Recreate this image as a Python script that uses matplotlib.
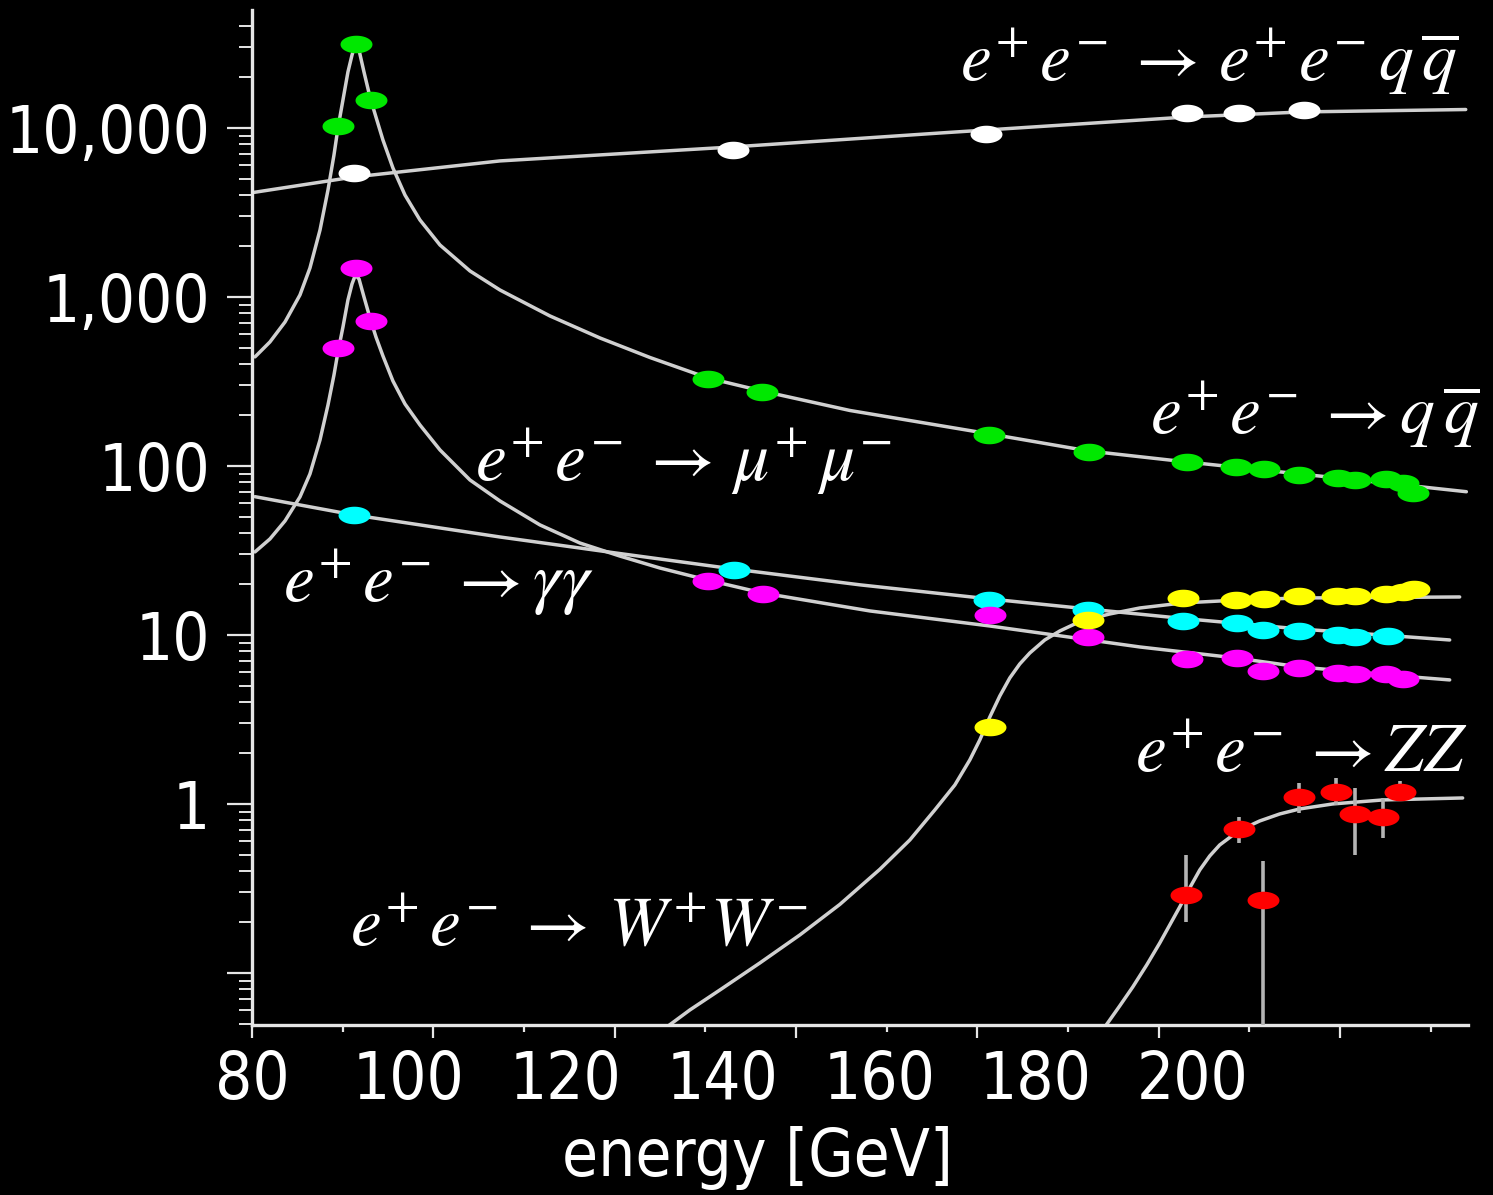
import numpy as np
import matplotlib
matplotlib.use("Agg")
import matplotlib.pyplot as plt
from matplotlib.path import Path
from matplotlib.font_manager import FontProperties
from matplotlib.ticker import FixedLocator, NullFormatter, FixedFormatter, LogLocator

# ---------------- measured cross sections (pb) vs centre-of-mass energy (GeV) ----------------
qq_energy = [89.5, 91.5, 93.1, 130.3, 136.2, 161.3, 172.3, 183.1, 188.5, 191.6, 195.5,
             199.8, 201.6, 205.1, 206.9, 208.0]
qq_sigma = [10280, 31400, 14650, 327, 275, 152, 121, 105, 98.3, 96.0, 88.5,
            84.6, 82.6, 83.4, 79.0, 68.9]

eeqq_energy = [91.2, 133.0, 161.0, 183.1, 188.9, 196.0]
eeqq_sigma = [5420, 7410, 9210, 12270, 12270, 12790]

mumu_energy = [89.5, 91.5, 93.1, 130.3, 136.4, 161.4, 172.2, 183.1, 188.6, 191.5, 195.5,
               199.8, 201.6, 205.1, 206.9]
mumu_sigma = [499, 1490, 721, 20.9, 17.4, 13.1, 9.77, 7.21, 7.28, 6.15, 6.35,
              5.94, 5.90, 5.90, 5.47]

gg_energy = [91.2, 133.1, 161.3, 172.2, 182.7, 188.6, 191.5, 195.5, 199.8, 201.6, 205.3]
gg_sigma = [51.3, 24.2, 16.1, 14.1, 12.1, 11.7, 10.7, 10.6, 10.0, 9.7, 9.8]

ww_energy = [161.4, 172.2, 182.7, 188.5, 191.6, 195.5, 199.6, 201.6, 205.1, 206.9, 208.2]
ww_sigma = [2.87, 12.3, 16.5, 16.1, 16.3, 16.9, 16.9, 16.9, 17.5, 18.0, 18.7]

zz_energy = [183.0, 188.9, 191.5, 195.5, 199.5, 201.6, 204.7, 206.6]
zz_sigma = [0.29, 0.71, 0.27, 1.10, 1.18, 0.87, 0.84, 1.18]
zz_err_lo = [0.09, 0.12, 0.267, 0.22, 0.19, 0.37, 0.21, 0.12]
zz_err_hi = [0.21, 0.13, 0.19, 0.23, 0.25, 0.37, 0.25, 0.18]

# ---------------- theory predictions (pb) ----------------
qq_curve_energy = [80.33, 81.98, 83.64, 85.29, 86.39, 87.50, 88.38, 89.04, 89.48, 90.03,
                   90.58, 91.03, 91.40, 91.80, 92.35, 93.01, 93.67, 94.44, 95.54, 96.87,
                   98.52, 100.73, 104.04, 107.34, 112.86, 118.37, 123.88, 130.28, 136.23,
                   145.93, 161.37, 172.28, 183.09, 195.54, 208.0, 213.92]
qq_curve_sigma = [442, 542, 711, 1028, 1484, 2490, 4297, 6918, 10000, 14650,
                  21440, 27020, 31410, 28910, 21440, 15240, 11610, 8490, 5800, 4010,
                  2856, 2030, 1425, 1100, 772, 572, 438.5, 331.6, 277.7,
                  213, 154.7, 122.6, 105.6, 89.7, 76.2, 70.4]

mumu_curve_energy = [80.33, 81.98, 83.64, 85.29, 86.39, 87.50, 88.38, 89.04, 89.48, 90.03,
                     90.58, 91.03, 91.40, 91.80, 92.35, 93.01, 93.67, 94.44, 95.54, 96.87,
                     98.52, 100.73, 104.04, 107.34, 111.75, 116.16, 120.57, 124.98, 130.28,
                     136.34, 148.14, 161.37, 177.91, 188.49, 195.54, 206.57, 212.08]
mumu_curve_sigma = [31.0, 37.0, 47.3, 65.6, 89.7, 142.6, 229.6, 345.4, 472.7, 664,
                    960, 1194, 1349, 1278, 1000, 751, 580, 447.7, 318.4, 232.8,
                    174.9, 124.4, 82.6, 62.1, 44.8, 35.0, 29.3, 24.9, 21.1,
                    17.7, 13.87, 11.30, 8.49, 7.31, 6.47, 5.72, 5.42]

gg_curve_energy = [80.33, 91.25, 107.34, 120.02, 133.03, 147.03, 161.37, 172.17, 182.64,
                   195.54, 212.08]
gg_curve_sigma = [65.8, 51.3, 38.0, 30.6, 24.6, 19.8, 16.33, 14.25, 12.52, 10.85, 9.34]

eeqq_curve_energy = [80.11, 91.25, 107.34, 133.03, 155.85, 183.09, 195.88, 213.85]
eeqq_curve_sigma = [4150, 5129, 6383, 7724, 9336, 11615, 12445, 12860]

ww_curve_energy = [125.3, 128.29, 131.60, 136.01, 140.42, 144.83, 149.24, 152.55, 155.30,
                   157.51, 159.16, 160.26, 161.37, 162.47, 163.57, 164.67, 165.78, 167.43,
                   169.09, 170.74, 172.39, 174.60, 177.90, 182.64, 188.93, 195.54, 213.18]
ww_curve_sigma = [0.046, 0.0604, 0.0793, 0.1146, 0.1679, 0.2545, 0.4105, 0.6124, 0.9215,
                  1.295, 1.822, 2.391, 3.273, 4.356, 5.568, 6.737, 7.827, 9.343,
                  10.56, 11.62, 12.44, 13.31, 14.44, 15.47, 16.11, 16.55, 16.78]

zz_curve_energy = [173.82, 175.69, 177.13, 178.67, 180.11, 181.21, 182.31, 183.41, 184.52,
                   185.62, 186.72, 188.05, 189.48, 191.13, 193.34, 195.54, 199.18, 204.69,
                   213.51]
zz_curve_sigma = [0.046, 0.0638, 0.0826, 0.1115, 0.1505, 0.1923, 0.2458, 0.3184, 0.4069,
                  0.4923, 0.5720, 0.6465, 0.7211, 0.7931, 0.8726, 0.9342, 1.0, 1.056,
                  1.085]

x_tick_values = [80, 100, 120, 140, 160, 180, 200]
x_tick_labels = ["80", "100", "120", "140", "160", "180", "200"]
y_tick_values = [1, 10, 100, 1000, 10000]
y_tick_labels = ["1", "10", "100", "1,000", "10,000"]

# ---------------- figure ----------------
plt.rcParams["mathtext.fontset"] = "stix"
W, H, DPI = 1493, 1195, 100
fig = plt.figure(figsize=(W / DPI, H / DPI), dpi=DPI, facecolor="black")
ax = fig.add_axes([252 / W, 170 / H, 1216 / W, 1015 / H], facecolor="black")

ax.set_yscale("log")
ax.set_xlim(80, 214.1)
ax.set_ylim(0.0492, 49900)

line_kw = dict(color="#d0d0d0", lw=2.5, solid_capstyle="round", solid_joinstyle="round",
               zorder=2)
for ex, sy in [(qq_curve_energy, qq_curve_sigma), (mumu_curve_energy, mumu_curve_sigma),
               (gg_curve_energy, gg_curve_sigma), (eeqq_curve_energy, eeqq_curve_sigma),
               (ww_curve_energy, ww_curve_sigma), (zz_curve_energy, zz_curve_sigma)]:
    ax.plot(ex, sy, **line_kw)

# flat elliptical markers
t = np.linspace(0, 2 * np.pi, 64)
ellipse = Path(np.column_stack([np.cos(t), 0.55 * np.sin(t)]), closed=True)
mk = dict(marker=ellipse, markersize=23, linestyle="none", markeredgewidth=0, zorder=4)

ax.errorbar(zz_energy, zz_sigma, yerr=[zz_err_lo, zz_err_hi], fmt="none",
            ecolor="#b4b4b4", elinewidth=2.6, capsize=0, zorder=3)

ax.plot(eeqq_energy, eeqq_sigma, color="white", **mk)
ax.plot(qq_energy, qq_sigma, color="#00e800", **mk)
ax.plot(gg_energy, gg_sigma, color="#00ffff", **mk)
ax.plot(mumu_energy, mumu_sigma, color="#ff00ff", **mk)
ax.plot(ww_energy, ww_sigma, color="#ffff00", **mk)
ax.plot(zz_energy, zz_sigma, color="#ff0000", **mk)

# ---------------- axes styling ----------------
for side in ("top", "right"):
    ax.spines[side].set_visible(False)
for side in ("left", "bottom"):
    ax.spines[side].set_color("#e6e6e6")
    ax.spines[side].set_linewidth(2.4)

ax.xaxis.set_major_locator(FixedLocator(x_tick_values))
ax.xaxis.set_minor_locator(FixedLocator([90, 110, 130, 150, 170, 190, 210]))
ax.tick_params(axis="x", which="major", direction="out", length=9.5, width=1.6,
               color="#e6e6e6", labelbottom=False)
ax.tick_params(axis="x", which="minor", direction="out", length=5, width=1.6,
               color="#e6e6e6", labelbottom=False)

ax.yaxis.set_major_locator(FixedLocator([0.1] + y_tick_values))
ax.yaxis.set_major_formatter(FixedFormatter([""] + y_tick_labels))
ax.yaxis.set_minor_locator(LogLocator(base=10, subs=np.arange(2, 10), numticks=20))
ax.yaxis.set_minor_formatter(NullFormatter())
ax.tick_params(axis="y", which="major", direction="out", length=18, width=1.6,
               color="#e6e6e6", pad=12, labelcolor="white")
ax.tick_params(axis="y", which="minor", direction="out", length=9.5, width=1.4,
               color="#e6e6e6")

tick_font = FontProperties(family="DejaVu Sans", stretch="condensed", size=47)
for lbl in ax.get_yticklabels():
    lbl.set_fontproperties(tick_font)

# energy labels are spread on their own evenly spaced label scale
sec = ax.secondary_xaxis("bottom",
                         functions=(lambda x: 80 + 1.1566 * (x - 80),
                                    lambda v: 80 + (v - 80) / 1.1566))
sec.set_xticks(x_tick_values)
sec.set_xticklabels(x_tick_labels)
sec.spines["bottom"].set_visible(False)
sec.tick_params(axis="x", length=0, pad=17, labelcolor="white")
for lbl in sec.get_xticklabels():
    lbl.set_fontproperties(tick_font)

fig.text(757 / W, 1 - 1158 / H, "energy [GeV]", color="white", ha="center", va="center",
         fontproperties=FontProperties(family="DejaVu Sans", stretch="condensed", size=47))

# ---------------- process labels ----------------
lab_kw = dict(color="white", fontsize=50, ha="left", va="center", transform=fig.transFigure)
fig.text(960 / W, 1 - 62 / H,
         r"$e^{+}\,e^{-}\;\rightarrow\,e^{+}\,e^{-}\,q\,\overline{q}$", **lab_kw)
fig.text(1150 / W, 1 - 415 / H, r"$e^{+}\,e^{-}\;\rightarrow q\,\overline{q}$", **lab_kw)
fig.text(475 / W, 1 - 462 / H, r"$e^{+}\,e^{-}\;\rightarrow\,\mu^{+}\,\mu^{-}$", **lab_kw)
fig.text(283 / W, 1 - 583 / H, r"$e^{+}\,e^{-}\;\rightarrow \gamma\gamma$", **lab_kw)
fig.text(1135 / W, 1 - 753 / H, r"$e^{+}\,e^{-}\;\rightarrow ZZ$", **lab_kw)
fig.text(350 / W, 1 - 925 / H, r"$e^{+}\,e^{-}\;\rightarrow\,W^{+}W^{-}$", **lab_kw)

fig.savefig("out.png", dpi=DPI, facecolor="black")
